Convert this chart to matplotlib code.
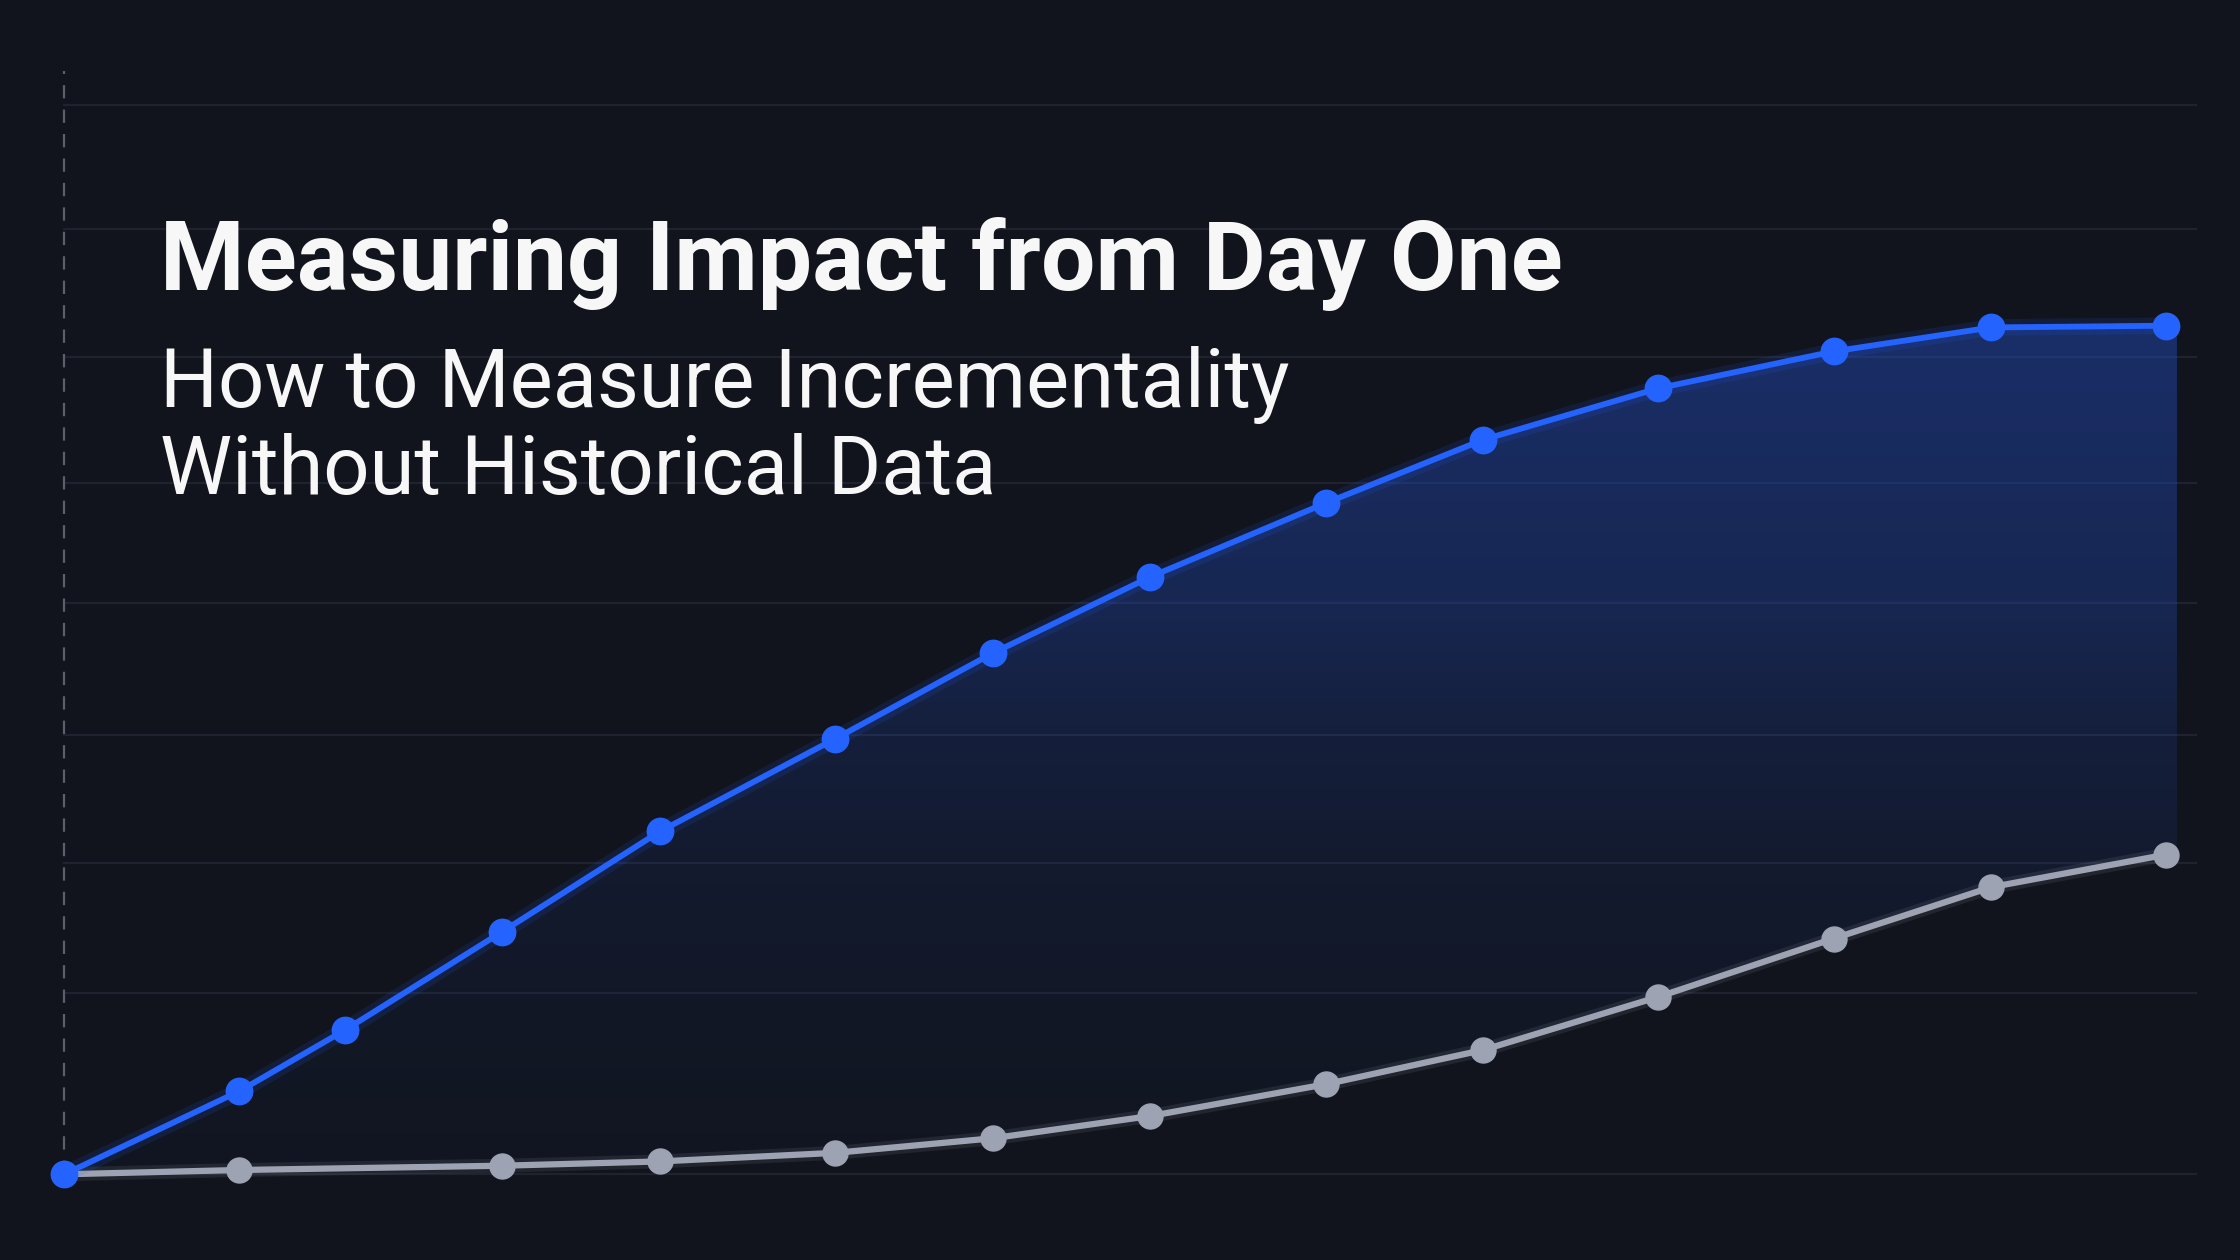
import numpy as np
import matplotlib
matplotlib.use("Agg")
import matplotlib.pyplot as plt
from matplotlib.patches import Polygon

# data
days = [0, 5, 8, 12.5, 17, 22, 26.5, 31, 36, 40.5, 45.5, 50.5, 55, 60]
with_campaign = [0, 9.7, 16.8, 28.3, 40, 50.8, 60.8, 69.7, 78.3, 85.7, 91.7, 96, 98.8, 99]
days_base = [0, 5, 12.5, 17, 22, 26.5, 31, 36, 40.5, 45.5, 50.5, 55, 60]
baseline = [0, 0.5, 1, 1.5, 2.5, 4.2, 6.8, 10.5, 14.5, 20.7, 27.5, 33.5, 37.3]
grid_levels = [0, 21.2, 36.3, 51.2, 66.7, 80.7, 95.3, 110.3, 124.7]

title = "Measuring Impact from Day One"
subtitle_lines = ["How to Measure Incrementality", "Without Historical Data"]

bg = "#11141c"
blue = "#2563ff"
grey = "#9ea3b3"

fig = plt.figure(figsize=(22.4, 12.6), dpi=100, facecolor=bg)
ax = fig.add_axes([0, 0, 1, 1])
ax.set_facecolor(bg)
ax.set_xlim(-1.835, 62.1)
ax.set_ylim(-10, 137)
ax.axis("off")

# grid lines
for g in grid_levels:
    ax.plot([0, 60.85], [g, g], color="#1f2330", lw=1.6, zorder=1)
ax.plot([0, 0], [0, 128.7], color="#5a5f6c", lw=1.6, ls=(0, (6, 5)), zorder=2)

# gradient fill between the two curves
xs = np.linspace(0, 60.3, 400)
top = np.interp(xs, days, with_campaign)
bot = np.interp(xs, days_base, baseline)
verts = list(zip(xs, top)) + list(zip(xs[::-1], bot[::-1]))
poly = Polygon(verts, closed=True, facecolor="none", edgecolor="none")
ax.add_patch(poly)
h = 300
ys = np.linspace(0, 100, h)
alpha = np.interp(ys, [0, 20, 37, 51, 67, 100], [0.03, 0.07, 0.12, 0.2, 0.34, 0.48])
grad = np.zeros((h, 2, 4))
grad[:, :, 0] = 0.145
grad[:, :, 1] = 0.30
grad[:, :, 2] = 0.745
grad[:, :, 3] = alpha[:, None]
im = ax.imshow(grad, extent=[0, 60.3, 0, 100], origin="lower", aspect="auto", zorder=3)
im.set_clip_path(poly)

# lines with a soft glow
ax.plot(days_base, baseline, color=grey, lw=10, alpha=0.12, zorder=4, solid_capstyle="round")
ax.plot(days_base, baseline, color=grey, lw=4.5, zorder=5, marker="o", ms=18, mec=grey)
ax.plot(days, with_campaign, color=blue, lw=12, alpha=0.12, zorder=6, solid_capstyle="round")
ax.plot(days, with_campaign, color=blue, lw=4.2, zorder=7, marker="o", ms=19, mec=blue)

# titles
fig.text(160 / 2240, 1 - 290 / 1260, title, color="#f7f7f7", fontsize=69.5,
         fontweight="bold", family=["Roboto", "DejaVu Sans"], va="baseline", ha="left")
for i, line in enumerate(subtitle_lines):
    fig.text(160 / 2240, 1 - (407 + 87 * i) / 1260, line, color="#f7f7f7", fontsize=58.5,
             fontweight="normal", family=["Roboto", "DejaVu Sans"], va="baseline", ha="left")

fig.savefig("out.png", dpi=100, facecolor=bg)
